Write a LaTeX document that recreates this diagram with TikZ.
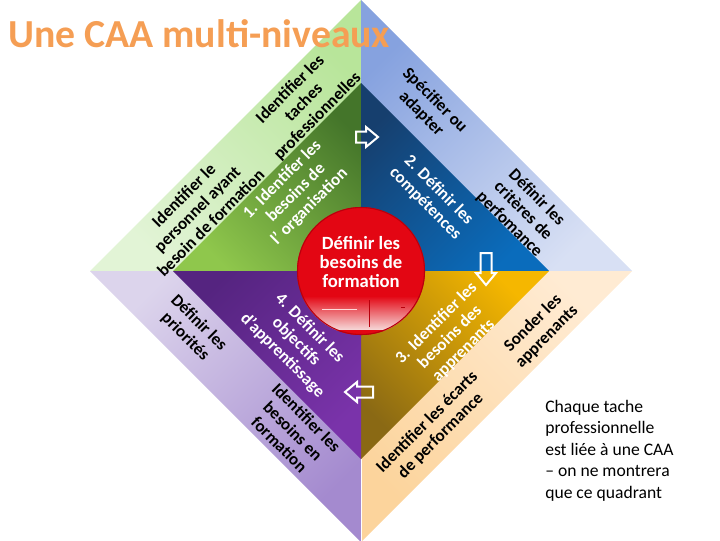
\documentclass[tikz,border=0pt]{standalone}
\usepackage{fontspec}
\setmainfont{Carlito}
\definecolor{titleor}{RGB}{245,158,84}
\definecolor{lgA}{HTML}{B8E59A}
\definecolor{lgB}{HTML}{E2F4D6}
\definecolor{dgA}{HTML}{44752A}
\definecolor{dgB}{HTML}{8FC74C}
\definecolor{lbA}{HTML}{86A2DF}
\definecolor{lbB}{HTML}{D8E0F4}
\definecolor{dbA}{HTML}{163F6E}
\definecolor{dbB}{HTML}{0A6CBC}
\definecolor{pcA}{HTML}{FFEBD3}
\definecolor{pcB}{HTML}{FCD49C}
\definecolor{goA}{HTML}{F5B700}
\definecolor{goB}{HTML}{8A6914}
\definecolor{liA}{HTML}{DCD4EC}
\definecolor{liB}{HTML}{A48ACF}
\definecolor{puA}{HTML}{552480}
\definecolor{puB}{HTML}{7A33AA}
\definecolor{redA}{HTML}{E30613}
\definecolor{redD}{HTML}{B8000C}
\definecolor{redL}{HTML}{F6DADA}
\begin{document}
\begin{tikzpicture}[x=0.75pt,y=-0.75pt,
  dtext/.style={font=\bfseries\fontsize{12.8}{14.4}\selectfont, align=center, inner sep=0pt},
  blk/.style={dtext, text=black},
  wht/.style={dtext, text=white},
  arrowline/.style={draw=white, line width=1.5pt, line join=miter}]
\useasboundingbox (0,0) rectangle (720,540);
% outer quadrants
\shade[top color=lgA, bottom color=lgB, shading angle=-45] (361,0) -- (90,271) -- (361,271) -- cycle;
\shade[top color=lbA, bottom color=lbB, shading angle=45] (361,0) -- (632,271) -- (361,271) -- cycle;
\shade[top color=pcA, bottom color=pcB, shading angle=-45] (361,271) -- (632,271) -- (361,542) -- cycle;
\shade[top color=liA, bottom color=liB, shading angle=45] (361,271) -- (90,271) -- (361,542) -- cycle;
\draw[white, line width=0.5pt] (361,459) -- (361,542);
% inner quadrants
\shade[top color=dgA, bottom color=dgB, shading angle=-45] (361,83) -- (173,271) -- (361,271) -- cycle;
\shade[top color=dbA, bottom color=dbB, shading angle=45] (361,83) -- (549,271) -- (361,271) -- cycle;
\shade[top color=goA, bottom color=goB, shading angle=-45] (361,271) -- (549,271) -- (361,459) -- cycle;
\shade[top color=puA, bottom color=puB, shading angle=45] (361,271) -- (173,271) -- (361,459) -- cycle;
% hollow arrows
\draw[arrowline, shift={(367,137)}] (-11,-5.5) -- (-1,-5.5) -- (-1,-10) -- (11,0) -- (-1,10) -- (-1,5.5) -- (-11,5.5) -- cycle;
\draw[arrowline, shift={(486,269)}, rotate=-90] (-16,-5.5) -- (4,-5.5) -- (4,-10) -- (16,0) -- (4,10) -- (4,5.5) -- (-16,5.5) -- cycle;
\draw[arrowline, shift={(359,392)}, rotate=180] (-14,-5.5) -- (2,-5.5) -- (2,-10) -- (14,0) -- (2,10) -- (2,5.5) -- (-14,5.5) -- cycle;
% red circle
\fill[redA] (361,271) circle[radius=64];
\begin{scope}
  \clip (361,271) circle[radius=64];
  \shade[top color=redA, bottom color=redL] (296,296) rectangle (426,330);
  \fill[redA] (296,330) rectangle (426,336);
\end{scope}
\draw[redD, line width=0.8pt] (361,271) circle[radius=63.5];
\draw[white!85!red, line width=0.6pt] (322,309) -- (357,309);
\draw[redD, line width=0.6pt] (369,300) -- (369,327);
\draw[redD, line width=0.6pt] (401,307) -- (405,307);
\node[wht, font=\bfseries\fontsize{14}{14.6}\selectfont] (centre) at (361,262) {Définir les\\besoins de\\formation};
% green quadrant texts
\node[blk, rotate=45] (t1) at (304,103) {Identifier les\\taches\\professionnelles};
\node[blk, rotate=45] (t2) at (197,209) {Identifier le\\personnel ayant\\besoin de formation};
\node[wht, rotate=45] (t3) at (296,193) {1. Identifer les\\besoins de\\l’ organisation};
% blue quadrant texts
\node[blk, rotate=-45] (t4) at (428,107) {Spécifier ou\\adapter};
\node[blk, rotate=-45] (t5) at (523,211) {Définir les\\critères de\\perfomance};
\node[wht, rotate=-45] (t6) at (432,197) {2. Définir les\\compétences};
% gold quadrant texts
\node[wht, rotate=45] (t7) at (450,337) {3. Identifier les\\besoins des\\apprenants};
\node[blk, rotate=45] (t8) at (540,330) {Sonder les\\apprenants};
\node[blk, rotate=45] (t9) at (434,429) {Identifier les écarts\\de performance};
% purple quadrant texts
\node[wht, rotate=-45] (t10) at (296,342) {4. Définir les\\objectifs\\d’apprentissage};
\node[blk, rotate=-45] (t11) at (192,330) {Définir les\\priorités};
\node[blk, rotate=-45] (t12) at (293,431) {Identifier les\\besoins en\\formation};
% title and note
\node[anchor=base west, inner sep=0pt, text=titleor, font=\bfseries\fontsize{29.8}{34}\selectfont] (title) at (8,47) {Une CAA multi-niveaux};
\node[anchor=base west, inner sep=0pt, align=left, font=\fontsize{13.2}{16.1}\selectfont] (note) at (545,498) {Chaque tache\\professionnelle\\est liée à une CAA\\– on ne montrera\\que ce quadrant};
\end{tikzpicture}
\end{document}
